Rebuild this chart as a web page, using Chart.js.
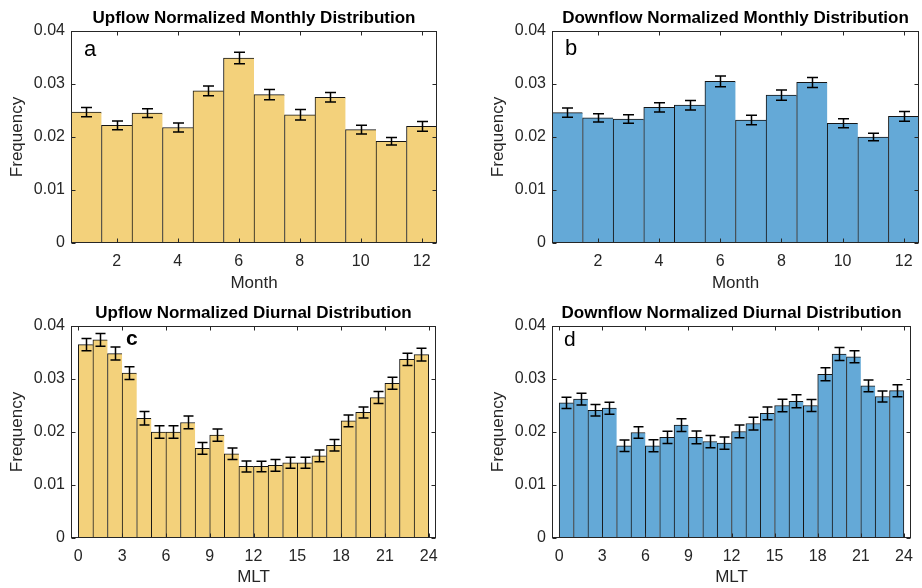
<!DOCTYPE html>
<html>
<head>
<meta charset="utf-8">
<script src="https://cdn.jsdelivr.net/npm/chart.js@4.4.1/dist/chart.umd.min.js"></script>
<style>
  html, body { margin: 0; padding: 0; background: #ffffff; overflow: hidden; }
  #wrap { position: relative; width: 922px; height: 588px; }
  canvas { position: absolute; }
</style>
</head>
<body>
<div id="wrap">
  <canvas id="ca" width="461" height="294" style="left:0px;top:0px"></canvas>
  <canvas id="cb" width="441" height="294" style="left:481px;top:0px"></canvas>
  <canvas id="cc" width="461" height="294" style="left:0px;top:294px"></canvas>
  <canvas id="cd" width="441" height="294" style="left:481px;top:294px"></canvas>
</div>
<script>
// ---------------- data ----------------
const months = [1, 2, 3, 4, 5, 6, 7, 8, 9, 10, 11, 12];
const upMonthly     = [0.0247, 0.0222, 0.0245, 0.0218, 0.0287, 0.0349, 0.0280, 0.0242, 0.0275, 0.0214, 0.0192, 0.0220];
const upMonthlyErr  = [0.00088, 0.00082, 0.00082, 0.00085, 0.00094, 0.00107, 0.00097, 0.00097, 0.00091, 0.00082, 0.00069, 0.00091];
const downMonthly    = [0.0246, 0.0236, 0.0234, 0.0256, 0.0260, 0.0305, 0.0232, 0.0279, 0.0303, 0.0226, 0.0200, 0.0239];
const downMonthlyErr = [0.00085, 0.00079, 0.00079, 0.00088, 0.00091, 0.00100, 0.00091, 0.00097, 0.00094, 0.00085, 0.00072, 0.00091];

const mltBins = [0.5, 1.5, 2.5, 3.5, 4.5, 5.5, 6.5, 7.5, 8.5, 9.5, 10.5, 11.5,
                 12.5, 13.5, 14.5, 15.5, 16.5, 17.5, 18.5, 19.5, 20.5, 21.5, 22.5, 23.5];
const upDiurnal    = [0.0365, 0.0374, 0.0348, 0.0311, 0.0226, 0.0200, 0.0200, 0.0218, 0.0169, 0.0194, 0.0159, 0.0135,
                      0.0135, 0.0137, 0.0142, 0.0142, 0.0155, 0.0175, 0.0221, 0.0237, 0.0265, 0.0292, 0.0337, 0.0346];
const upDiurnalErr = [0.00116, 0.00120, 0.00123, 0.00120, 0.00126, 0.00116, 0.00116, 0.00120, 0.00110, 0.00116, 0.00110, 0.00104,
                      0.00100, 0.00110, 0.00104, 0.00104, 0.00110, 0.00110, 0.00113, 0.00104, 0.00113, 0.00113, 0.00116, 0.00120];
const downDiurnal    = [0.0255, 0.0262, 0.0241, 0.0245, 0.0174, 0.0199, 0.0174, 0.0190, 0.0213, 0.0190, 0.0182, 0.0179,
                        0.0201, 0.0216, 0.0235, 0.0250, 0.0258, 0.0250, 0.0309, 0.0347, 0.0342, 0.0287, 0.0267, 0.0278];
const downDiurnalErr = [0.00107, 0.00110, 0.00107, 0.00113, 0.00110, 0.00110, 0.00113, 0.00116, 0.00120, 0.00120, 0.00116, 0.00116,
                        0.00120, 0.00120, 0.00120, 0.00116, 0.00123, 0.00113, 0.00123, 0.00123, 0.00113, 0.00110, 0.00104, 0.00113];

const monthTicks = [2, 4, 6, 8, 10, 12];
const mltTicks = [0, 3, 6, 9, 12, 15, 18, 21, 24];
const freqTicks = [0, 0.01, 0.02, 0.03, 0.04];
const freqTickLabels = ['0', '0.01', '0.02', '0.03', '0.04'];

const titles = [
  'Upflow Normalized Monthly Distribution',
  'Downflow Normalized Monthly Distribution',
  'Upflow Normalized Diurnal Distribution',
  'Downflow Normalized Diurnal Distribution'
];
const panelLetters = ['a', 'b', 'c', 'd'];

// ---------------- styles ----------------
const FONT = "'Liberation Sans', Arial, Helvetica, sans-serif";
const AXIS_COLOR = '#262626';
const YELLOW = 'rgb(243, 209, 123)';
const BLUE = 'rgb(100, 169, 215)';
const EDGE = '#141414';

function makePanel(id, p) {
  const n = p.values.length;
  const points = p.centers.map((c, i) => ({ x: c, y: p.values[i] }));

  const decor = {
    id: 'decor' + id,
    afterDatasetsDraw(chart) {
      const ctx = chart.ctx;
      const xs = chart.scales.x, ys = chart.scales.y;
      const a = chart.chartArea;
      ctx.save();
      // error bars
      ctx.strokeStyle = '#000';
      ctx.lineWidth = 1.5;
      p.centers.forEach((c, i) => {
        const x = Math.round(xs.getPixelForValue(c)) + 0.5;
        const yt = ys.getPixelForValue(p.values[i] + p.errs[i]);
        const yb = ys.getPixelForValue(p.values[i] - p.errs[i]);
        ctx.beginPath();
        ctx.moveTo(x, yt); ctx.lineTo(x, yb);
        ctx.moveTo(x - p.capHalf, yt); ctx.lineTo(x + p.capHalf, yt);
        ctx.moveTo(x - p.capHalf, yb); ctx.lineTo(x + p.capHalf, yb);
        ctx.stroke();
      });
      // axes box
      ctx.strokeStyle = AXIS_COLOR;
      ctx.lineWidth = 1;
      const L = Math.round(a.left) + 0.5, R = Math.round(a.right) - 0.5;
      const T = Math.round(a.top) + 0.5, B = Math.round(a.bottom) - 0.5;
      ctx.strokeRect(L, T, R - L, B - T);
      // inward ticks
      ctx.beginPath();
      xs.ticks.forEach((t, i) => {
        const x = Math.round(xs.getPixelForTick(i)) + 0.5;
        ctx.moveTo(x, B); ctx.lineTo(x, B - 4);
        ctx.moveTo(x, T); ctx.lineTo(x, T + 4);
      });
      ys.ticks.forEach((t, i) => {
        const y = Math.round(ys.getPixelForTick(i)) + 0.5;
        ctx.moveTo(L, y); ctx.lineTo(L + 4, y);
        ctx.moveTo(R, y); ctx.lineTo(R - 4, y);
      });
      ctx.stroke();
      // panel letter
      ctx.fillStyle = '#000';
      ctx.font = p.letterFont;
      ctx.textAlign = 'left';
      ctx.textBaseline = 'alphabetic';
      ctx.fillText(p.letter, a.left + p.letterDx, a.top + p.letterDy);
      ctx.restore();
    }
  };

  return new Chart(document.getElementById(id), {
    type: 'bar',
    data: {
      datasets: [{
        data: points,
        backgroundColor: p.color,
        borderColor: EDGE,
        borderWidth: (c) => ({ left: 1, top: 1, bottom: 0, right: c.dataIndex === n - 1 ? 1 : 0 }),
        borderSkipped: false,
        barPercentage: 1.0,
        categoryPercentage: 1.0
      }]
    },
    options: {
      responsive: false,
      maintainAspectRatio: false,
      animation: false,
      devicePixelRatio: 1,
      layout: { padding: { left: 0, right: p.padRight, top: 0, bottom: 0 } },
      plugins: {
        legend: { display: false },
        tooltip: { enabled: false },
        title: {
          display: true,
          text: p.title,
          fullSize: false,
          color: '#000',
          font: { family: FONT, size: 17, weight: 'bold', lineHeight: 1.2 },
          padding: { top: p.titleTop, bottom: p.titleBottom }
        }
      },
      scales: {
        x: {
          type: 'linear',
          offset: false,
          min: p.xMin,
          max: p.xMax,
          grid: { display: false, drawTicks: false },
          border: { display: false },
          afterBuildTicks: (s) => { s.ticks = p.xTicks.map(v => ({ value: v })); },
          afterFit: (s) => { s.height = p.xAxisHeight; },
          ticks: {
            autoSkip: false, maxRotation: 0, minRotation: 0,
            padding: 9,
            color: AXIS_COLOR,
            font: { family: FONT, size: 16 },
            callback: (v, i) => String(p.xTicks[i])
          },
          title: {
            display: true, text: p.xTitle, color: AXIS_COLOR,
            font: { family: FONT, size: 17, lineHeight: 1.2 },
            padding: { top: 0, bottom: 0.2 }
          }
        },
        y: {
          type: 'linear',
          min: 0,
          max: 0.04,
          grid: { display: false, drawTicks: false },
          border: { display: false },
          afterBuildTicks: (s) => { s.ticks = freqTicks.map(v => ({ value: v })); },
          afterFit: (s) => { s.width = 71; },
          ticks: {
            padding: 6,
            color: AXIS_COLOR,
            font: { family: FONT, size: 16 },
            callback: (v, i) => freqTickLabels[i]
          },
          title: {
            display: true, text: 'Frequency', color: AXIS_COLOR,
            font: { family: FONT, size: 17, lineHeight: 1.2 },
            padding: { top: 6.7, bottom: 0 }
          }
        }
      }
    },
    plugins: [decor]
  });
}

makePanel('ca', {
  centers: months, values: upMonthly, errs: upMonthlyErr, color: YELLOW,
  title: titles[0], xTitle: 'Month', xTicks: monthTicks, xMin: 0.5, xMax: 12.5,
  padRight: 24, titleTop: 7.8, titleBottom: 2.8, xAxisHeight: 51,
  letter: panelLetters[0], letterFont: '22px ' + FONT, letterDx: 13, letterDy: 25, capHalf: 5.5
});
makePanel('cb', {
  centers: months, values: downMonthly, errs: downMonthlyErr, color: BLUE,
  title: titles[1], xTitle: 'Month', xTicks: monthTicks, xMin: 0.5, xMax: 12.5,
  padRight: 3, titleTop: 7.8, titleBottom: 2.8, xAxisHeight: 51,
  letter: panelLetters[1], letterFont: '22px ' + FONT, letterDx: 13, letterDy: 24, capHalf: 5.5
});
makePanel('cc', {
  centers: mltBins, values: upDiurnal, errs: upDiurnalErr, color: YELLOW,
  title: titles[2], xTitle: 'MLT', xTicks: mltTicks, xMin: -0.5, xMax: 24.5,
  padRight: 25, titleTop: 8.8, titleBottom: 2.8, xAxisHeight: 50,
  letter: panelLetters[2], letterFont: 'bold 21px ' + FONT, letterDx: 55, letterDy: 19, capHalf: 5
});
makePanel('cd', {
  centers: mltBins, values: downDiurnal, errs: downDiurnalErr, color: BLUE,
  title: titles[3], xTitle: 'MLT', xTicks: mltTicks, xMin: -0.5, xMax: 24.5,
  padRight: 4, titleTop: 8.8, titleBottom: 2.8, xAxisHeight: 50,
  letter: panelLetters[3], letterFont: '21px ' + FONT, letterDx: 12, letterDy: 20, capHalf: 5
});
</script>
</body>
</html>
